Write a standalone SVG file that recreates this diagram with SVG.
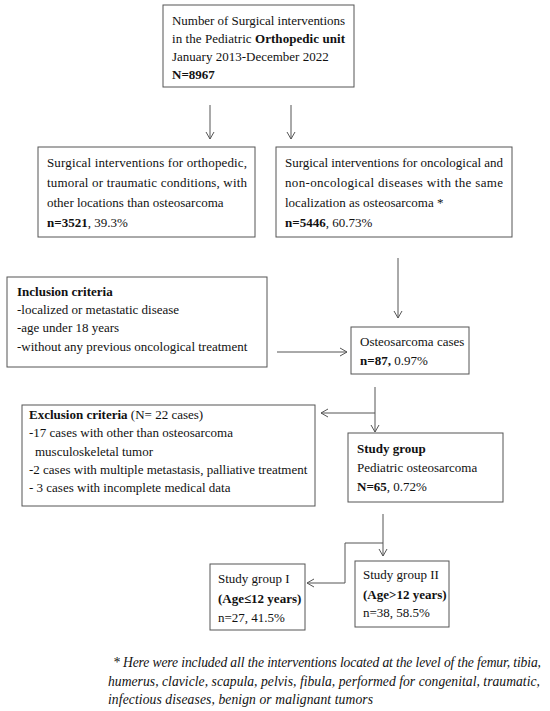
<svg xmlns="http://www.w3.org/2000/svg" width="550" height="711" viewBox="0 0 550 711">
<style>
.box{fill:#fff;stroke:#555;stroke-width:1}
text{font-family:"Liberation Serif","Times New Roman",serif;font-size:13px;fill:#111}
.b{font-weight:bold}
.it{font-style:italic;font-size:13.6px}
.c{fill:none;stroke:#555;stroke-width:1}
</style>
<defs>
<marker id="ah" markerWidth="10" markerHeight="10" refX="8" refY="5" orient="auto" markerUnits="userSpaceOnUse">
<path d="M1,1 L8,5 L1,9" fill="none" stroke="#555" stroke-width="1"/>
</marker>
</defs>
<rect width="550" height="711" fill="#fff"/>
<g id="connectors">
<line class="c" x1="210" y1="105" x2="210" y2="139" marker-end="url(#ah)"/>
<line class="c" x1="291" y1="105" x2="291" y2="139" marker-end="url(#ah)"/>
<line class="c" x1="398" y1="258" x2="398" y2="318" marker-end="url(#ah)"/>
<line class="c" x1="277" y1="352" x2="347" y2="352" marker-end="url(#ah)"/>
<line class="c" x1="375" y1="387" x2="375" y2="432" marker-end="url(#ah)"/>
<line class="c" x1="375" y1="413" x2="321" y2="413" marker-end="url(#ah)"/>
<line class="c" x1="383" y1="514" x2="383" y2="556" marker-end="url(#ah)"/>
<polyline class="c" points="383,543 345,543 345,583 307,583" marker-end="url(#ah)"/>
</g>
<g id="n-total">
<rect class="box" x="163" y="5" width="191" height="82"/>
<text x="172" y="25" textLength="173" lengthAdjust="spacing">Number of Surgical interventions</text>
<text x="172" y="43" textLength="173" lengthAdjust="spacing">in the Pediatric <tspan class="b">Orthopedic unit</tspan></text>
<text x="172" y="61">January 2013-December 2022</text>
<text x="172" y="79" class="b">N=8967</text>
</g>
<g id="n-other">
<rect class="box" x="38" y="147" width="217" height="90"/>
<text x="47" y="167" textLength="200" lengthAdjust="spacing">Surgical interventions for orthopedic,</text>
<text x="47" y="187" textLength="200" lengthAdjust="spacing">tumoral or traumatic conditions, with</text>
<text x="47" y="207">other locations than osteosarcoma</text>
<text x="47" y="227"><tspan class="b">n=3521</tspan>, 39.3%</text>
</g>
<g id="n-same">
<rect class="box" x="276" y="147" width="236" height="90"/>
<text x="285" y="167" textLength="218" lengthAdjust="spacing">Surgical interventions for oncological and</text>
<text x="285" y="187" textLength="218" lengthAdjust="spacing">non-oncological diseases with the same</text>
<text x="285" y="207">localization as osteosarcoma *</text>
<text x="285" y="227"><tspan class="b">n=5446</tspan>, 60.73%</text>
</g>
<g id="n-inclusion">
<rect class="box" x="7" y="277" width="260" height="90"/>
<text x="17" y="296" class="b">Inclusion criteria</text>
<text x="17" y="314">-localized or metastatic disease</text>
<text x="17" y="332">-age under 18 years</text>
<text x="17" y="351">-without any previous oncological treatment</text>
</g>
<g id="n-osteo">
<rect class="box" x="351" y="327" width="118" height="47"/>
<text x="360" y="346">Osteosarcoma cases</text>
<text x="360" y="365"><tspan class="b">n=87,</tspan> 0.97%</text>
</g>
<g id="n-exclusion">
<rect class="box" x="22" y="405" width="293" height="101"/>
<text x="29" y="419"><tspan class="b">Exclusion criteria</tspan> (N= 22 cases)</text>
<text x="29" y="437">-17 cases with other than osteosarcoma</text>
<text x="35" y="456">musculoskeletal tumor</text>
<text x="29" y="474">-2 cases with multiple metastasis, palliative treatment</text>
<text x="29" y="492">- 3 cases with incomplete medical data</text>
</g>
<g id="n-study">
<rect class="box" x="348" y="433" width="155" height="69"/>
<text x="357" y="453" class="b">Study group</text>
<text x="357" y="472">Pediatric osteosarcoma</text>
<text x="357" y="491"><tspan class="b">N=65</tspan>, 0.72%</text>
</g>
<g id="n-group1">
<rect class="box" x="210" y="564" width="95" height="66"/>
<text x="218" y="583">Study group I</text>
<text x="218" y="603" class="b">(Age≤12 years)</text>
<text x="218" y="622">n=27, 41.5%</text>
</g>
<g id="n-group2">
<rect class="box" x="355" y="561" width="94" height="66"/>
<text x="363" y="579">Study group II</text>
<text x="363" y="599" class="b">(Age&gt;12 years)</text>
<text x="363" y="617">n=38, 58.5%</text>
</g>
<g id="footnote">
<text class="it" x="113" y="667" textLength="428" lengthAdjust="spacing">* Here were included all the interventions located at the level of the femur, tibia,</text>
<text class="it" x="108" y="686" textLength="432" lengthAdjust="spacing">humerus, clavicle, scapula, pelvis, fibula, performed for congenital, traumatic,</text>
<text class="it" x="108" y="704" textLength="265" lengthAdjust="spacing">infectious diseases, benign or malignant tumors</text>
</g>
</svg>
